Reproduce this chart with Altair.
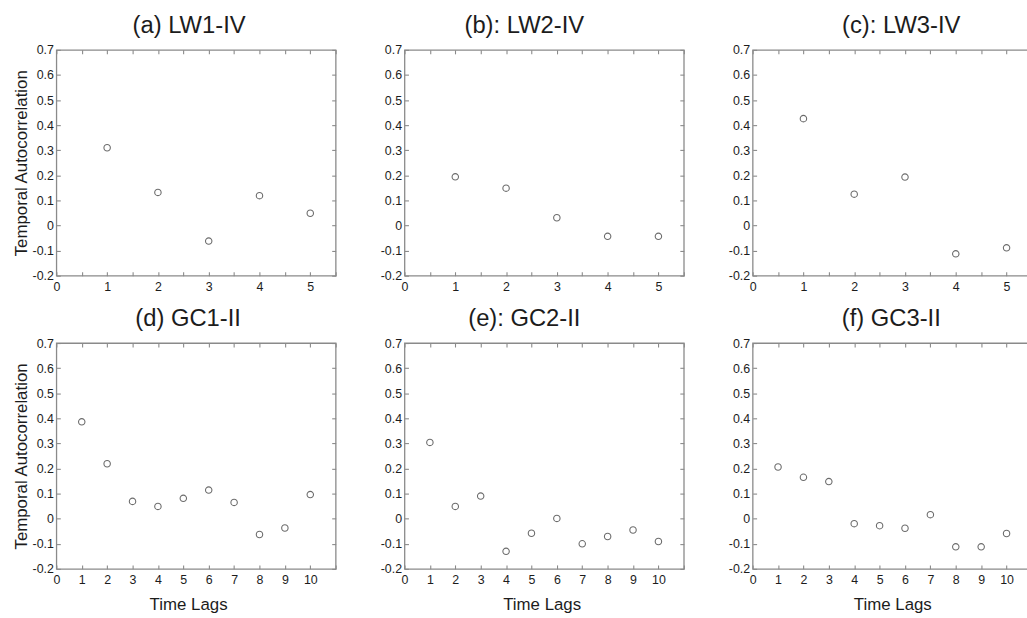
import altair as alt
import pandas as pd

FONT = "Liberation Sans"
TEXT = "#1c1c1c"
FRAME = "#8a8a8a"
MARKER = "#6b6b6b"

# ---- data ----
TITLES = ["(a) LW1-IV", "(b): LW2-IV", "(c): LW3-IV",
          "(d) GC1-II", "(e): GC2-II", "(f) GC3-II"]
TITLE_DX = [-7, -20, 9, -8, -20, -1]
XTITLE_DX = [-8, -2.5, 0]

LAGS_ROW1 = [1, 2, 3, 4, 5]
LAGS_ROW2 = [1, 2, 3, 4, 5, 6, 7, 8, 9, 10]

LW1 = [0.310, 0.132, -0.062, 0.119, 0.049]
LW2 = [0.194, 0.149, 0.031, -0.043, -0.043]
LW3 = [0.426, 0.125, 0.193, -0.113, -0.089]
GC1 = [0.386, 0.219, 0.069, 0.049, 0.081, 0.114, 0.065, -0.063, -0.037, 0.096]
GC2 = [0.304, 0.049, 0.090, -0.130, -0.058, 0.001, -0.100, -0.071, -0.045, -0.091]
GC3 = [0.206, 0.165, 0.148, -0.020, -0.028, -0.038, 0.016, -0.112, -0.112, -0.059]

Y_TICKS = [-0.2, -0.1, 0, 0.1, 0.2, 0.3, 0.4, 0.5, 0.6, 0.7]
X_TICKS_ROW1 = [0, 0.5, 1, 1.5, 2, 2.5, 3, 3.5, 4, 4.5, 5, 5.5]
X_TICKS_ROW2 = [0, 1, 2, 3, 4, 5, 6, 7, 8, 9, 10, 11]
X_MAX_ROW1 = 5.5
X_MAX_ROW2 = 11
Y_DOMAIN = [-0.2, 0.7]

Y_TITLE = "Temporal Autocorrelation"
X_TITLE = "Time Lags"

W, H = 282, 228
TICK = 4

Y_LABEL_EXPR = ("datum.value < 0 ? '-' + format(-datum.value, '.1~f') "
                ": format(datum.value, '.1~f')")
X_LABEL_EXPR = "datum.value % 1 == 0 && datum.value <= 10 ? format(datum.value, 'd') : ''"


def panel(title, tdx, lags, vals, xmax, xticks, ytitle, xtitle, xtdx):
    df = pd.DataFrame({"lag": lags, "r": vals})
    xs = alt.Scale(domain=[0, xmax], nice=False, zero=False)
    ys = alt.Scale(domain=Y_DOMAIN, nice=False, zero=False)

    xaxis_kw = dict(orient="bottom", values=xticks, labelExpr=X_LABEL_EXPR,
                    tickSize=TICK, offset=-TICK, domain=False, grid=False,
                    labelPadding=5, labelOverlap=False, labelFlush=False)
    if xtitle:
        xaxis_kw.update(title=X_TITLE, titlePadding=24, titleBaseline="alphabetic",
                        titleX=W / 2 + xtdx)
    else:
        xaxis_kw.update(title=None)

    yaxis_kw = dict(orient="left", values=Y_TICKS, labelExpr=Y_LABEL_EXPR,
                    tickSize=TICK, offset=-TICK, domain=False, grid=False,
                    labelPadding=3, labelOverlap=False, labelFlush=False)
    if ytitle:
        yaxis_kw.update(title=Y_TITLE, titlePadding=5.5, titleBaseline="alphabetic")
    else:
        yaxis_kw.update(title=None)

    base = alt.Chart(df)
    pts = base.mark_point(shape="circle", filled=False, size=42, color=MARKER,
                          strokeWidth=1.1, opacity=1).encode(
        x=alt.X("lag:Q", scale=xs, axis=alt.Axis(**xaxis_kw)),
        y=alt.Y("r:Q", scale=ys, axis=alt.Axis(**yaxis_kw)),
    )
    ghost = base.mark_point(opacity=0).encode(
        x=alt.X("lag:Q", scale=xs,
                axis=alt.Axis(orient="top", values=xticks, labels=False, tickSize=TICK,
                              offset=-TICK, domain=False, grid=False, title=None)),
        y=alt.Y("r:Q", scale=ys,
                axis=alt.Axis(orient="right", values=Y_TICKS, labels=False, tickSize=TICK,
                              offset=-TICK, domain=False, grid=False, title=None)),
    )
    return alt.layer(pts, ghost).resolve_axis(x="independent", y="independent").properties(
        width=W, height=H,
        title=alt.TitleParams(text=title, dx=tdx, fontSize=24, fontWeight="normal",
                              font=FONT, color=TEXT, offset=6, baseline="top",
                              frame="group", anchor="middle"),
    )


row1 = alt.hconcat(
    panel(TITLES[0], TITLE_DX[0], LAGS_ROW1, LW1, X_MAX_ROW1, X_TICKS_ROW1, True, False, 0),
    panel(TITLES[1], TITLE_DX[1], LAGS_ROW1, LW2, X_MAX_ROW1, X_TICKS_ROW1, False, False, 0),
    panel(TITLES[2], TITLE_DX[2], LAGS_ROW1, LW3, X_MAX_ROW1, X_TICKS_ROW1, False, False, 0),
    spacing=41.5,
)
row2 = alt.hconcat(
    panel(TITLES[3], TITLE_DX[3], LAGS_ROW2, GC1, X_MAX_ROW2, X_TICKS_ROW2, True, True, XTITLE_DX[0]),
    panel(TITLES[4], TITLE_DX[4], LAGS_ROW2, GC2, X_MAX_ROW2, X_TICKS_ROW2, False, True, XTITLE_DX[1]),
    panel(TITLES[5], TITLE_DX[5], LAGS_ROW2, GC3, X_MAX_ROW2, X_TICKS_ROW2, False, True, XTITLE_DX[2]),
    spacing=41.5,
)

chart = alt.vconcat(row1, row2, spacing=12).properties(
    padding={"left": 11.9, "top": 10.4, "right": -7, "bottom": -3},
    background="white",
).configure_view(
    stroke=FRAME, strokeWidth=1.3,
).configure_axis(
    labelFont=FONT, labelFontSize=12.5, labelColor=TEXT,
    titleFont=FONT, titleFontSize=17, titleColor=TEXT, titleFontWeight="normal",
    tickColor=FRAME, tickWidth=1.1,
)

chart.save("out.html", embed_options={"renderer": "svg", "actions": False})
